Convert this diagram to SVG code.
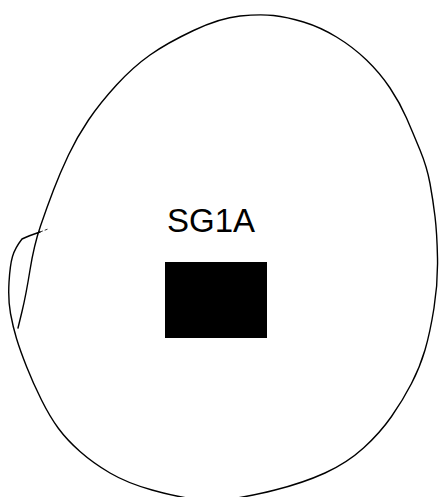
<svg xmlns="http://www.w3.org/2000/svg" width="439" height="497" viewBox="0 0 439 497">
<style>
.outline{fill:none;stroke:#000;stroke-width:1.4;stroke-linecap:round;stroke-linejoin:round}
.label{font-family:"Liberation Sans",Arial,sans-serif;font-size:33px;fill:#000}
</style>
<rect width="439" height="497" fill="#fff"/>
<g id="outline">
<path class="outline" d="M18,328 L22,311.5 Q26,295 30,270 Q34,245 40.5,226 Q47,207 53.5,190 Q60,173 68.5,155 Q77,137 88.5,120 Q100,103 116.5,85 Q133,67 150,55 Q167,43 193.5,30.5 Q220,18 240,16 Q260,14 273.5,15.5 Q287,17 303.5,22 Q320,27 336.5,37 Q353,47 366.5,60 Q380,73 390,88 Q400,103 406.5,118 Q413,133 420,150 Q427,167 430,183.5 Q433,200 435,216.5 Q437,233 437.5,258 Q438,283 434,308 Q430,333 425,350 Q420,367 411.5,383.5 Q403,400 391.5,416.5 Q380,433 363.5,448 Q347,463 325,473 Q303,483 275,490 Q247,497 229.5,499 Q212,501 194.5,499 Q177,497 152,490 Q127,483 110,473 Q93,463 80,451.5 Q67,440 58.5,428.5 Q50,417 41.5,400 Q33,383 26.5,366.5 Q20,350 16.5,338.5 Q13,327 10.5,313.5 Q8,300 9,282.5 Q10,265 12.5,256.5 Q15,248 22,239 Q28,236 40,232"/>
<path d="M40,232 L48,229" fill="none" stroke="#000" stroke-width="0.8" stroke-dasharray="3,2"/>
</g>
<g id="sg1a">
<text class="label" x="167" y="232">SG1A</text>
<rect x="165" y="262" width="102" height="76" fill="#000"/>
</g>
</svg>
